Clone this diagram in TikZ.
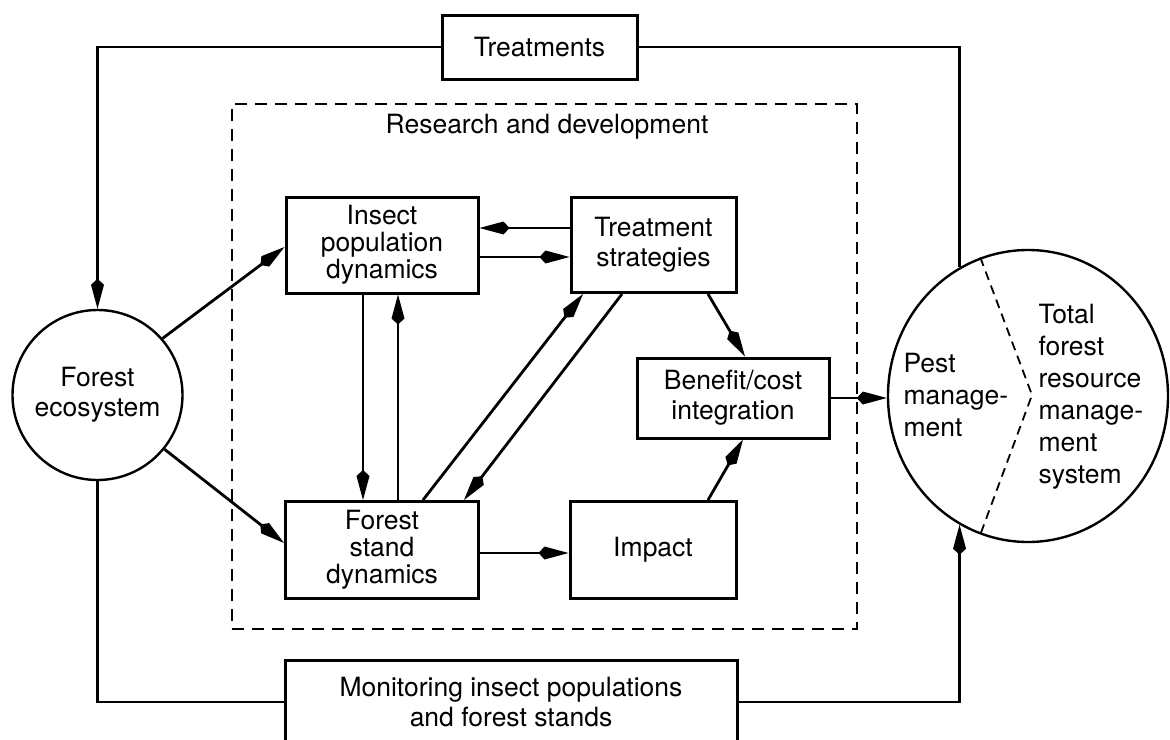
\documentclass[tikz,border=0pt]{standalone}
\usepackage{fontspec}
\setmainfont{TeX Gyre Heros}
\usetikzlibrary{arrows.meta,shapes.geometric,calc}
\begin{document}
\begin{tikzpicture}[x=1pt,y=-1pt,
  txt/.style={font=\fontsize{26.5}{30}\selectfont},
  box/.style={txt, draw, line width=3pt, rectangle, inner sep=0pt, align=center},
  rdbox/.style={draw, line width=2.8pt, dash pattern=on 12pt off 8pt, rectangle, inner sep=0pt},
  conn/.style={line width=2.8pt},
  arr/.style={conn, -{Kite[length=30pt,width=13pt,inset=6pt]}},
  divider/.style={line width=1.8pt, dash pattern=on 9pt off 6pt},
  roundnode/.style={txt, draw, line width=2.4pt, inner sep=0pt, align=center}
]
\useasboundingbox (0,0) rectangle (1170,739);

% main nodes
\node[box, minimum width=195pt, minimum height=64pt] (tr) at (539.5,47) {Treatments};
\node[rdbox, minimum width=625pt, minimum height=525pt] (rd) at (544.5,366.5) {};
\node[txt] (rdl) at (547,127) {Research and development};
\node[box, minimum width=192pt, minimum height=96pt, font=\fontsize{26.5}{27}\selectfont] (ins) at (382,245) {Insect\\population\\dynamics};
\node[box, minimum width=165pt, minimum height=95pt] (ts) at (653.5,245) {Treatment\\strategies};
\node[box, minimum width=192pt, minimum height=80pt] (bc) at (733,398) {Benefit/cost\\integration};
\node[box, minimum width=193pt, minimum height=97pt, font=\fontsize{26.5}{27}\selectfont] (fs) at (382,550) {Forest\\stand\\dynamics};
\node[box, minimum width=166pt, minimum height=97pt] (imp) at (653,550) {Impact};
\node[box, minimum width=452pt, minimum height=84pt] (mon) at (511,702) {Monitoring insect populations\\and forest stands};
\node[roundnode, circle, minimum size=170pt] (fe) at (97.5,395) {Forest\\ecosystem};
\node[roundnode, ellipse, minimum width=280pt, minimum height=292pt] (pm) at (1028,396) {};
\node[txt, anchor=west, align=left, font=\fontsize{26.5}{32}\selectfont] (pmt) at (900,395) {Pest\\manage-\\ment};
\node[txt, anchor=west, align=left, font=\fontsize{26.5}{32}\selectfont] (tot) at (1035,397) {Total\\forest\\resource\\manage-\\ment\\system};
\coordinate (pmv) at (1032,395);

% divider inside the right ellipse
\draw[divider] (pm.109.3) -- (pmv) -- (pm.251.9);

% outer loop
\draw[arr] (tr.west) -| (fe.north);
\draw[conn] (tr.east) -| (pm.118.5);
\draw[conn] (fe.south) |- (mon.west);
\draw[arr] (mon.east) -| (pm.242);

% forest ecosystem to inner boxes
\draw[arr] (fe.41) -- ($(ins.west)+(0,2)$);
\draw[arr] (fe.-39) -- ($(fs.west)+(0,-7)$);

% inner connections
\draw[arr] ($(ts.west)+(0,-17)$) -- ($(ins.east)+(0,-17)$);
\draw[arr] ($(ins.east)+(0,12)$) -- ($(ts.west)+(0,12)$);
\draw[arr] ($(ins.south)+(-19,0)$) -- ($(fs.north)+(-19,0)$);
\draw[arr] ($(fs.north)+(16,0)$) -- ($(ins.south)+(16,0)$);
\draw[arr] ($(fs.north)+(41,0)$) -- ($(ts.south)+(-70.5,0)$);
\draw[arr] ($(ts.south)+(-31.5,0)$) -- ($(fs.north)+(82,0)$);
\draw[arr] ($(fs.east)+(0,3)$) -- ($(imp.west)+(0,3)$);
\draw[arr] ($(ts.south)+(54.5,0)$) -- ($(bc.north)+(12,0)$);
\draw[arr] ($(imp.north)+(55,0)$) -- ($(bc.south)+(10,0)$);
\draw[arr] (bc.east) -- (bc.east -| pm.west);
\end{tikzpicture}
\end{document}
